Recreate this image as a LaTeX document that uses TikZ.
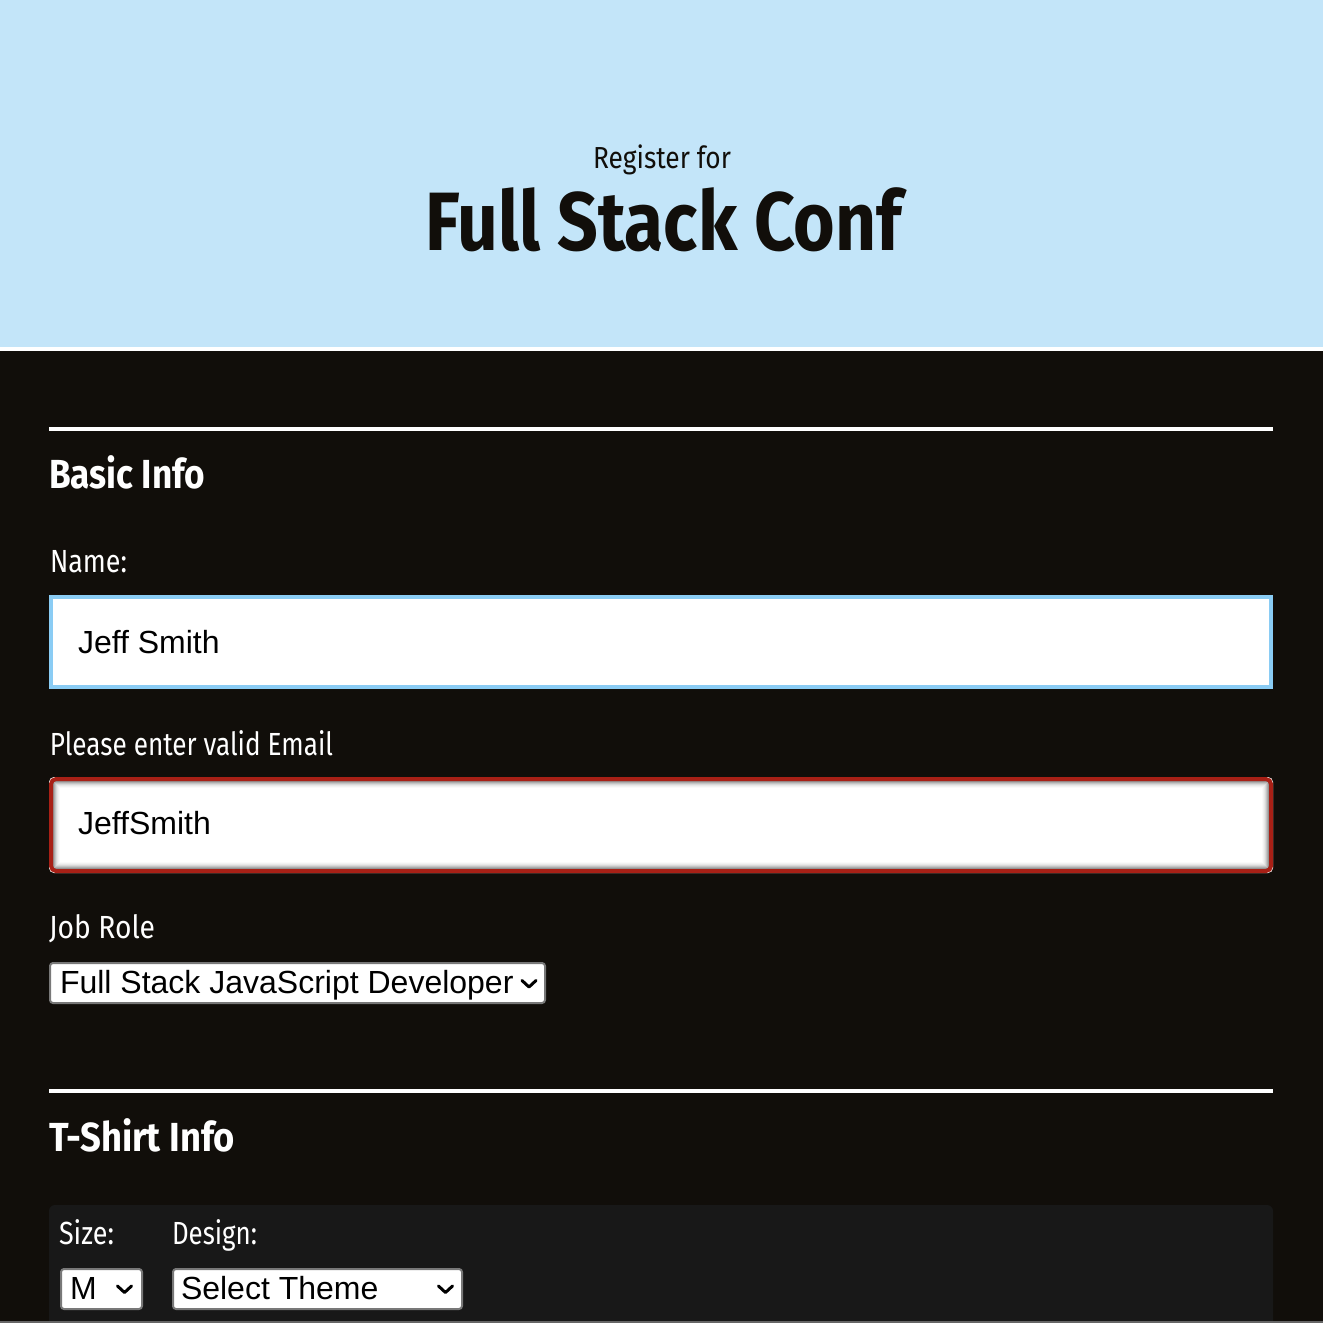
\documentclass[tikz,border=0pt]{standalone}
\usepackage{graphicx}
\usepackage{fontspec}
\setmainfont{Liberation Sans}
\newfontfamily\dosis{Fira Sans}
\definecolor{hdr}{RGB}{195,229,249}
\definecolor{bg}{RGB}{17,14,10}
\definecolor{panel}{RGB}{24,24,24}
\definecolor{okblue}{RGB}{138,204,244}
\definecolor{errred}{RGB}{168,32,22}
\definecolor{selborder}{RGB}{120,120,120}
\newcommand{\fitw}[2]{\resizebox{#1}{\height}{#2}}
\tikzset{
  txt/.style={inner sep=0pt, outer sep=0pt, anchor=base west},
  lbl/.style={txt, text=white, font=\dosis\fontsize{16pt}{19pt}\selectfont},
  head/.style={txt, text=white, font=\dosis\bfseries\fontsize{20.3pt}{24pt}\selectfont},
  field/.style={txt, text=black, font=\fontsize{16pt}{19pt}\selectfont},
  selbox/.style={fill=white, draw=selborder, line width=1pt, rounded corners=1.5pt},
  chev/.style={draw=black, line width=1.5pt, line cap=round, line join=round},
}
\begin{document}
\begin{tikzpicture}[x=0.5pt,y=-0.5pt]
\useasboundingbox (0,0) rectangle (1323,1323);
% backgrounds
\fill[bg] (0,0) rectangle (1323,1323);
\fill[hdr] (0,0) rectangle (1323,347);
\fill[white] (0,347) rectangle (1323,351);
% header texts
\node[txt, text=bg, font=\dosis\fontsize{15.2pt}{18pt}\selectfont] (register) at (593,168) {\fitw{69pt}{Register for}};
\node[txt, text=bg, font=\dosis\bfseries\fontsize{41.4pt}{48pt}\selectfont] (title) at (425,250) {\fitw{238.5pt}{Full Stack Conf}};
% Basic info
\fill[white] (49,427) rectangle (1273,431);
\node[head] (basic) at (49,488) {\fitw{78pt}{Basic Info}};
\node[lbl] (namelbl) at (50,572) {\fitw{38.5pt}{Name:}};
\fill[white] (49,595) rectangle (1273,689);
\draw[okblue, line width=2pt] (51,597) rectangle (1271,687);
\node[field] (nameval) at (78,653) {Jeff Smith};
\node[lbl] (emaillbl) at (50,755) {\fitw{141.5pt}{Please enter valid Email}};
% email with inner shadow
\fill[white, rounded corners=2.5pt] (49,777) rectangle (1273,873);
\foreach \i/\c in {0/42,1/32,2/23,3/15,4/9,5/5,6/2}{
  \draw[black!\c!white, line width=0.5pt] (53.5+\i,781.5+\i) rectangle (1268.5-\i,868.5-\i);
}
\draw[errred, line width=2pt, rounded corners=2.5pt] (51,779) rectangle (1271,871);
\node[field] (emailval) at (78,834) {JeffSmith};
% job role
\node[lbl] (joblbl) at (49,938) {\fitw{53pt}{Job Role}};
\draw[selbox] (50,963) rectangle (545,1003);
\node[field] (jobval) at (60,993) {Full Stack JavaScript Developer};
\draw[chev] (522,980.5) -- (529,987) -- (536,980.5);
% T-shirt info
\fill[white] (49,1089) rectangle (1273,1093);
\node[head] (tshirt) at (49,1151) {\fitw{93pt}{T-Shirt Info}};
\fill[panel, rounded corners=3pt] (49,1205) rectangle (1273,1360);
\node[lbl] (sizelbl) at (59,1244) {\fitw{27.5pt}{Size:}};
\node[lbl] (designlbl) at (172,1244) {\fitw{42.5pt}{Design:}};
\draw[selbox] (61,1269) rectangle (142,1309);
\node[field] (sizeval) at (70,1299) {M};
\draw[chev] (117.5,1286) -- (124.5,1292.5) -- (131.5,1286);
\draw[selbox] (173,1269) rectangle (462,1309);
\node[field] (designval) at (181,1299) {Select Theme};
\draw[chev] (438.5,1286) -- (445.5,1292.5) -- (452.5,1286);
% bottom edge
\fill[black!60!white] (0,1321) rectangle (1323,1323);
\end{tikzpicture}
\end{document}
